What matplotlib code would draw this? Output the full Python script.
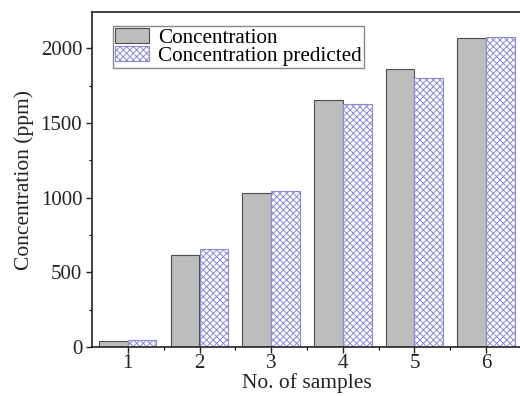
import matplotlib.pyplot as plt
import matplotlib
import numpy as np
from matplotlib.ticker import MultipleLocator, FixedLocator

matplotlib.rcParams['font.family'] = 'Liberation Serif'
matplotlib.rcParams['font.size'] = 15
matplotlib.rcParams['hatch.linewidth'] = 0.7

# 샘플별 농도 (측정값 / 예측값)
samples = [1, 2, 3, 4, 5, 6]
conc = [40, 615, 1032, 1653, 1859, 2067]
conc_pred = [50, 653, 1044, 1625, 1799, 2076]

fig = plt.figure(figsize=(5.2, 3.96), dpi=100)
ax = fig.add_axes([92/520, 1-347/396, 430/520, 335/396])

x = np.array(samples)
w = 0.4
ax.bar(x - w/2, conc, width=w, color='#bdbdbd', edgecolor='#4d4d4d', lw=0.8,
       label='Concentration')
ax.bar(x + w/2, conc_pred, width=w, color='white', edgecolor='#8a8ad6', lw=0.8,
       hatch='xxxxx', label='Concentration predicted')

ax.set_xlim(0.5, 6.5)
ax.set_ylim(0, 2243)
ax.set_xticks(samples)
ax.xaxis.set_minor_locator(FixedLocator([1.5, 2.5, 3.5, 4.5, 5.5]))
ax.yaxis.set_major_locator(MultipleLocator(500))
ax.yaxis.set_minor_locator(MultipleLocator(250))
ax.tick_params(which='major', direction='out', length=4, width=1, labelsize=15,
               colors='#222222', pad=3)
ax.tick_params(which='minor', direction='out', length=2.5, width=0.8)
ax.tick_params(axis='x', pad=1)

for s in ax.spines.values():
    s.set_linewidth(1.2)
    s.set_color('#222222')

ax.set_xlabel('No. of samples', fontsize=15.5, labelpad=0, color='#222222')
ax.set_ylabel('Concentration (ppm)', fontsize=15.5, labelpad=5, color='#222222')

leg = ax.legend(loc='upper left', bbox_to_anchor=(0.049, 0.958), fontsize=15.2,
                fancybox=False, edgecolor='#888888', framealpha=1,
                handlelength=1.6, handleheight=0.7, borderpad=0.1,
                labelspacing=-0.1, handletextpad=0.45, borderaxespad=0)
leg.get_frame().set_linewidth(1.0)

plt.savefig('out.png', dpi=100)
